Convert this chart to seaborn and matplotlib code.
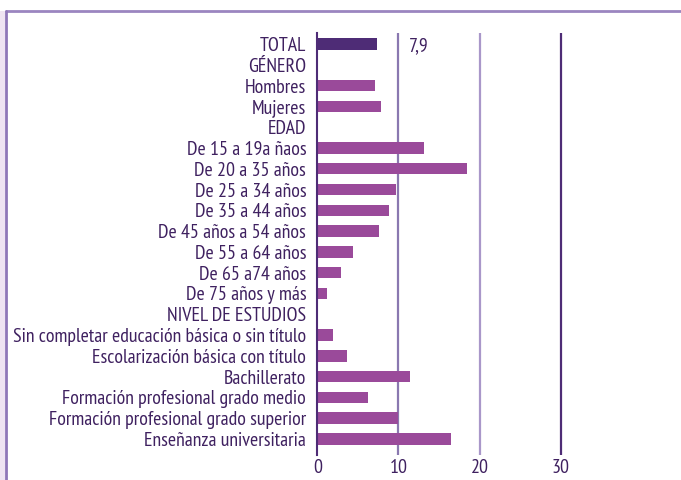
import matplotlib
matplotlib.use("Agg")
import matplotlib.pyplot as plt
from matplotlib import font_manager as fm
import seaborn as sns
import numpy as np
import pandas as pd
from matplotlib.patches import Rectangle

categories = [
    "TOTAL", "GÉNERO", "Hombres", "Mujeres", "EDAD",
    "De 15 a 19a ñaos", "De 20 a 35 años", "De 25 a 34 años", "De 35 a 44 años",
    "De 45 años a 54 años", "De 55 a 64 años", "De 65 a74 años", "De 75 años y más",
    "NIVEL DE ESTUDIOS",
    "Sin completar educación básica o sin título", "Escolarización básica con título",
    "Bachillerato", "Formación profesional grado medio",
    "Formación profesional grado superior", "Enseñanza universitaria",
]
values = [
    7.3, np.nan, 7.05, 7.8, np.nan,
    13.1, 18.5, 9.65, 8.8, 7.55, 4.45, 2.95, 1.2,
    np.nan,
    1.95, 3.7, 11.4, 6.3, 9.95, 16.5,
]
total_label = "7,9"
xticks = [0, 10, 20, 30]

text_color = "#3f2160"
bar_color = "#9a4a9a"
total_color = "#4e2c76"

sns.set_theme(style="white")

# pick a narrow font if one is installed
installed = {f.name for f in fm.fontManager.ttflist}
narrow = [n for n in ["PT Sans Narrow", "Fira Sans Condensed", "Roboto Condensed",
                      "Encode Sans Condensed", "Liberation Sans Narrow"] if n in installed]
if narrow:
    plt.rcParams["font.family"] = [narrow[0], "DejaVu Sans"]
    fsize = 14.3
else:
    plt.rcParams["font.family"] = ["DejaVu Sans"]
    fsize = 9.5

df = pd.DataFrame({"cat": categories, "val": values})
palette = {c: (total_color if c == "TOTAL" else bar_color) for c in categories}

fig = plt.figure(figsize=(6.81, 4.80), dpi=100)
ax = fig.add_axes([317.3 / 681, 1 - 455 / 480, 357 / 681, 422 / 480])

sns.barplot(data=df, x="val", y="cat", hue="cat", order=categories,
            palette=palette, legend=False, width=0.55, saturation=1,
            linewidth=0, ax=ax)

ax.set_xlim(0, 44)
ax.set_ylim(19.77, -0.53)
ax.set_xlabel("")
ax.set_ylabel("")

for x, c in zip([10, 20, 30], ["#8a78b0", "#a997c9", "#4e2c76"]):
    ax.axvline(x, color=c, lw=1.6, zorder=0)

for s in ["top", "right", "bottom"]:
    ax.spines[s].set_visible(False)
ax.spines["left"].set_color("#4e2c76")
ax.spines["left"].set_linewidth(1.5)

ax.set_xticks(xticks)
ax.set_xticklabels([str(t) for t in xticks])
ax.tick_params(axis="both", length=0, colors=text_color, labelsize=fsize)
ax.tick_params(axis="y", pad=8)
ax.tick_params(axis="x", pad=3)

ax.text(11.3, 0.1, total_label, color=text_color, fontsize=fsize,
        va="center", ha="left")

# frame around the figure
fig.add_artist(plt.Line2D([6 / 681, 1], [1 - 11 / 480] * 2, color="#9b85c0", lw=2,
                          transform=fig.transFigure))
fig.add_artist(plt.Line2D([6 / 681] * 2, [0, 1 - 11 / 480], color="#8f77b8", lw=2,
                          transform=fig.transFigure))
fig.add_artist(Rectangle((0, 0), 5 / 681, 1 - 11 / 480, transform=fig.transFigure,
                         color="#efe4f2", lw=0))

fig.savefig("out.png", dpi=100)
